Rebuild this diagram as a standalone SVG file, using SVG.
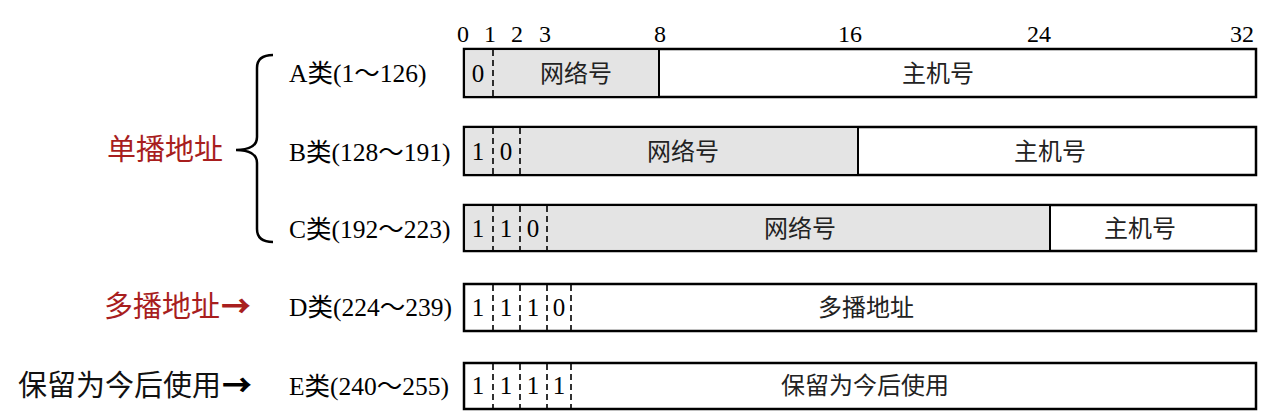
<svg xmlns="http://www.w3.org/2000/svg" width="1280" height="419" viewBox="0 0 1280 419">
<style>
.box{fill:#fff;stroke:#000;stroke-width:2.5}
.net{fill:#e4e4e4;stroke:none}
.div{stroke:#000;stroke-width:2}
.dash{stroke:#000;stroke-width:1.6;stroke-dasharray:6 4}
.t{font-family:"Liberation Serif","Noto Sans CJK SC",serif;fill:#000}
.num{font-size:24px}
.bit{font-size:25px;text-anchor:middle}
.cj{font-family:"Noto Sans CJK SC",sans-serif;font-size:24px;text-anchor:middle;fill:#222}
.lab{font-size:25.5px}
.red{fill:#a81e1e}
.big{font-family:"Noto Sans CJK SC",sans-serif;font-size:29px}
.arr{font-family:"Noto Sans CJK SC",sans-serif;font-weight:900;font-size:30px}
</style>
<rect width="1280" height="419" fill="#fff"/>
<g id="scale" class="t num">
<text x="457" y="42">0</text>
<text x="484" y="42">1</text>
<text x="511" y="42">2</text>
<text x="539" y="42">3</text>
<text x="654" y="42">8</text>
<text x="838" y="42">16</text>
<text x="1027" y="42">24</text>
<text x="1230" y="42">32</text>
</g>
<g id="rowA">
<rect class="box" x="464" y="49" width="792" height="48"/>
<rect class="net" x="465.2" y="50.2" width="193.8" height="45.6"/>
<line class="div" x1="659" y1="49" x2="659" y2="97"/>
<line class="dash" x1="493" y1="50" x2="493" y2="96"/>
<text class="t bit" x="478" y="82">0</text>
<text class="cj" x="576" y="82">网络号</text>
<text class="cj" x="938" y="82">主机号</text>
</g>
<g id="rowB">
<rect class="box" x="464" y="127" width="792" height="48"/>
<rect class="net" x="465.2" y="128.2" width="392.8" height="45.6"/>
<line class="div" x1="858" y1="127" x2="858" y2="175"/>
<line class="dash" x1="493" y1="128" x2="493" y2="174"/>
<line class="dash" x1="520" y1="128" x2="520" y2="174"/>
<text class="t bit" x="478" y="160">1</text>
<text class="t bit" x="506" y="160">0</text>
<text class="cj" x="683" y="160">网络号</text>
<text class="cj" x="1050" y="160">主机号</text>
</g>
<g id="rowC">
<rect class="box" x="464" y="205" width="792" height="46"/>
<rect class="net" x="465.2" y="206.2" width="584.8" height="43.6"/>
<line class="div" x1="1050" y1="205" x2="1050" y2="251"/>
<line class="dash" x1="493" y1="206" x2="493" y2="250"/>
<line class="dash" x1="520" y1="206" x2="520" y2="250"/>
<line class="dash" x1="547" y1="206" x2="547" y2="250"/>
<text class="t bit" x="478" y="237">1</text>
<text class="t bit" x="506" y="237">1</text>
<text class="t bit" x="533" y="237">0</text>
<text class="cj" x="800" y="237">网络号</text>
<text class="cj" x="1140" y="237">主机号</text>
</g>
<g id="rowD">
<rect class="box" x="464" y="284" width="792" height="47"/>
<line class="dash" x1="493" y1="285" x2="493" y2="330"/>
<line class="dash" x1="520" y1="285" x2="520" y2="330"/>
<line class="dash" x1="547" y1="285" x2="547" y2="330"/>
<line class="dash" x1="571" y1="285" x2="571" y2="330"/>
<text class="t bit" x="478" y="316">1</text>
<text class="t bit" x="506" y="316">1</text>
<text class="t bit" x="533" y="316">1</text>
<text class="t bit" x="559" y="316">0</text>
<text class="cj" x="866" y="316">多播地址</text>
</g>
<g id="rowE">
<rect class="box" x="464" y="363" width="792" height="46"/>
<line class="dash" x1="493" y1="364" x2="493" y2="408"/>
<line class="dash" x1="520" y1="364" x2="520" y2="408"/>
<line class="dash" x1="547" y1="364" x2="547" y2="408"/>
<line class="dash" x1="571" y1="364" x2="571" y2="408"/>
<text class="t bit" x="478" y="394">1</text>
<text class="t bit" x="506" y="394">1</text>
<text class="t bit" x="533" y="394">1</text>
<text class="t bit" x="559" y="394">1</text>
<text class="cj" x="865" y="394">保留为今后使用</text>
</g>
<g id="labels" class="t lab">
<text x="289" y="82">A类(1～126)</text>
<text x="289" y="161">B类(128～191)</text>
<text x="289" y="238">C类(192～223)</text>
<text x="289" y="316">D类(224～239)</text>
<text x="289" y="395">E类(240～255)</text>
</g>
<g id="brace">
<path d="M273,55 Q257,55 257,68 L257,137 Q257,150 236,150 Q257,150 257,163 L257,229 Q257,242 273,242" fill="none" stroke="#000" stroke-width="2.5"/>
</g>
<g id="groups">
<text class="big red" x="104" y="317">多播地址<tspan class="arr" dx="1">→</tspan></text>
<text class="big red" x="107" y="160">单播地址</text>
<text class="big" x="18" y="396" fill="#111">保留为今后使用<tspan class="arr" dx="1" fill="#000">→</tspan></text>
</g>
</svg>
